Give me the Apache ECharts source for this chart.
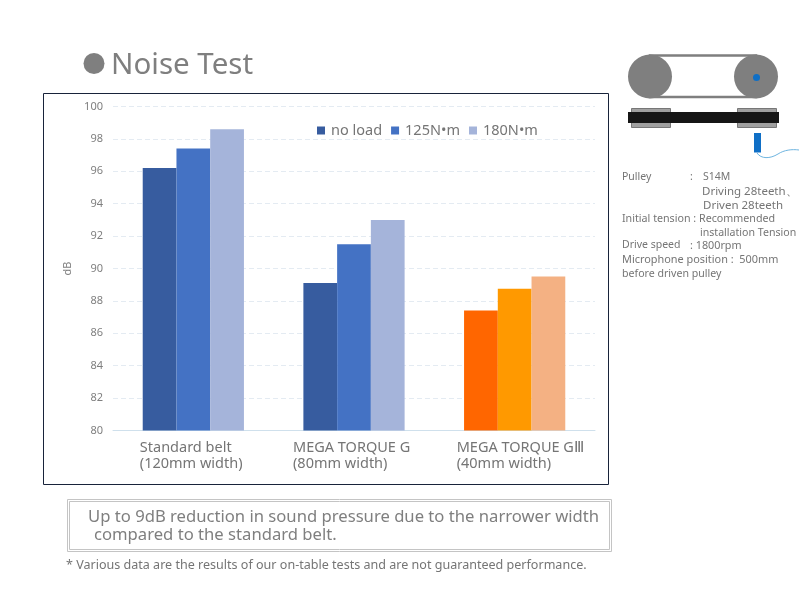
<!DOCTYPE html>
<html><head><meta charset="utf-8">
<style>html,body{margin:0;padding:0;background:#fff}#c{width:806px;height:611px}</style>
<script src="https://cdn.jsdelivr.net/npm/echarts@6/dist/echarts.min.js"></script>
</head><body><div id="c"></div>
<script>
const categories = ['Standard belt\n(120mm width)', 'MEGA TORQUE G\n(80mm width)', 'MEGA TORQUE GⅢ\n(40mm width)'];
const seriesNames = ['no load', '125N•m', '180N•m'];
const noLoad = [96.2, 89.1, 87.4];
const n125 = [97.4, 91.5, 88.75];
const n180 = [98.6, 93.0, 89.5];
const blues = ['#375C9F', '#4472C4', '#A5B4DA'];
const oranges = ['#FF6600', '#FF9900', '#F4B183'];
const labelBlockWidths = [107, 122, 116];
const F = '"Noto Sans", sans-serif';
const GREY = '#7f7f7f';
const TXT = '#757575';

const chart = echarts.init(document.getElementById('c'), null, {renderer: 'canvas'});
function ser(i, vals) {
  return {
    name: seriesNames[i], type: 'bar', barGap: 0, barCategoryGap: '37%',
    itemStyle: {color: blues[i]},
    data: vals.map((v, k) => k === 2 ? {value: v, itemStyle: {color: oranges[i]}} : v)
  };
}
function txt(x, y, s, size, color, extra) {
  return {type: 'text', left: x, top: y, z: 10, style: Object.assign({text: s, font: size + 'px ' + F, fill: color || TXT}, extra || {})};
}
const rich = {};
labelBlockWidths.forEach((w, i) => {
  rich['c' + i] = {width: w, align: 'left', fontSize: 14.5, lineHeight: 16, color: TXT, fontFamily: F};
});
const infoLines = [
  [622, 172, 'Pulley', 10.5], [690, 172, ':', 10.5], [703, 172, 'S14M', 10.5],
  [702, 186, 'Driving 28teeth、', 11.5], [703, 200, 'Driven 28teeth', 11.5],
  [622, 213, 'Initial tension : Recommended', 10.7], [700, 227, 'installation Tension', 10.6],
  [622, 240, 'Drive speed', 10.5], [690, 240, ': 1800rpm', 10.8],
  [622, 254, 'Microphone position :  500mm', 10.9], [622, 268, 'before driven pulley', 10.6]
];
chart.setOption({
  animation: false,
  backgroundColor: '#fff',
  grid: {left: 113, right: 211, top: 106.5, bottom: 180.5, containLabel: false},
  legend: {
    left: 312, top: 118, itemWidth: 8, itemHeight: 8, itemGap: 9, icon: 'rect',
    data: seriesNames,
    textStyle: {fontSize: 14.5, color: TXT, fontFamily: F, padding: [0, 0, 0, 1]}
  },
  xAxis: {
    type: 'category', data: categories,
    axisTick: {show: false},
    axisLine: {lineStyle: {color: '#CFE0EC', width: 1}},
    axisLabel: {
      interval: 0, margin: 9.5, align: 'center', verticalAlign: 'top',
      formatter: (v, i) => v.split('\n').map(l => '{c' + i + '|' + l + '}').join('\n'),
      rich: rich
    }
  },
  yAxis: {
    type: 'value', min: 80, max: 100, interval: 2,
    name: 'dB', nameLocation: 'middle', nameGap: 32, nameRotate: 90,
    nameTextStyle: {color: GREY, fontSize: 11, fontFamily: F},
    axisLine: {show: false}, axisTick: {show: false},
    axisLabel: {color: GREY, fontSize: 11, fontFamily: F, margin: 10},
    splitLine: {lineStyle: {color: '#E4EBF2', type: [5, 3], width: 1}}
  },
  series: [ser(0, noLoad), ser(1, n125), ser(2, n180)],
  graphic: [
    {type: 'rect', z: 5, silent: true, shape: {x: 43.5, y: 93.5, width: 565, height: 391}, style: {fill: 'none', stroke: '#18233a', lineWidth: 1}},
    {type: 'circle', shape: {cx: 94, cy: 63.5, r: 10.5}, style: {fill: GREY}},
    txt(111, 50.5, 'Noise Test', 29.5, GREY),
    {type: 'rect', shape: {x: 67.5, y: 499.5, width: 544, height: 52}, style: {fill: 'none', stroke: '#c4c4c4', lineWidth: 1}},
    {type: 'rect', shape: {x: 69.5, y: 501.5, width: 540, height: 48}, style: {fill: 'none', stroke: '#c4c4c4', lineWidth: 1}},
    txt(88, 509, 'Up to 9dB reduction in sound pressure due to the narrower width', 16.65, GREY),
    txt(94, 527, 'compared to the standard belt.', 16.65, GREY),
    txt(66, 559, '* Various data are the results of our on-table tests and are not guaranteed performance.', 12.55, TXT),
    {type: 'rect', shape: {x: 650, y: 55.5, width: 106, height: 41.5}, style: {fill: 'none', stroke: GREY, lineWidth: 2.5}},
    {type: 'circle', shape: {cx: 650, cy: 76.5, r: 22}, style: {fill: GREY}},
    {type: 'circle', shape: {cx: 756, cy: 76.5, r: 22}, style: {fill: GREY}},
    {type: 'circle', shape: {cx: 756.5, cy: 77.5, r: 3.5}, style: {fill: '#0F6FC6'}},
    {type: 'rect', shape: {x: 631.5, y: 108.5, width: 39, height: 19}, style: {fill: '#A0A0A0', stroke: '#777', lineWidth: 1}},
    {type: 'rect', shape: {x: 737.5, y: 108.5, width: 39, height: 19}, style: {fill: '#A0A0A0', stroke: '#777', lineWidth: 1}},
    {type: 'rect', shape: {x: 628, y: 112, width: 151, height: 11}, style: {fill: '#161616'}},
    {type: 'rect', shape: {x: 754, y: 133, width: 7, height: 19.5}, style: {fill: '#0F6FC6'}},
    {type: 'bezierCurve', shape: {x1: 757, y1: 153, cpx1: 761, cpy1: 159, cpx2: 770, cpy2: 159, x2: 778, y2: 154}, style: {fill: 'none', stroke: '#6FB5E0', lineWidth: 1}},
    {type: 'bezierCurve', shape: {x1: 778, y1: 154, cpx1: 784, cpy1: 150, cpx2: 792, cpy2: 149, x2: 799, y2: 150}, style: {fill: 'none', stroke: '#6FB5E0', lineWidth: 1}}
  ].concat(infoLines.map(l => txt(l[0], l[1], l[2], l[3], TXT)))
});
</script></body></html>
